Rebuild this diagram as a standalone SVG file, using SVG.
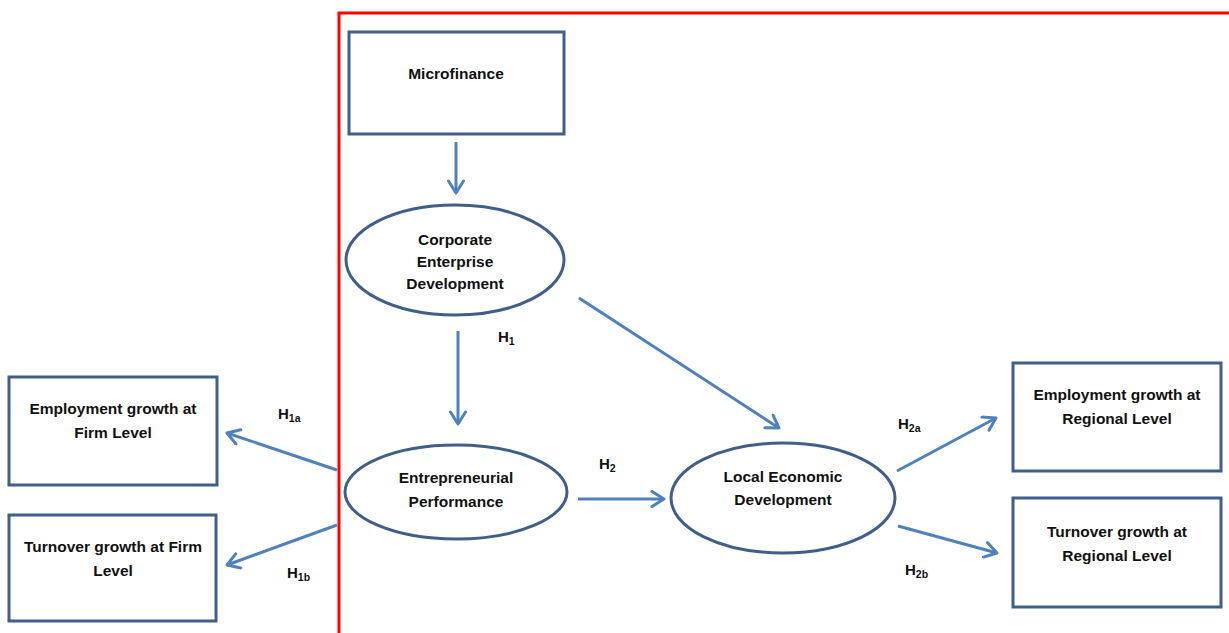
<svg xmlns="http://www.w3.org/2000/svg" width="1229" height="633" viewBox="0 0 1229 633">
  <style>
    .box { fill: #ffffff; stroke: #3f5f8a; stroke-width: 3; }
    .oval { fill: #ffffff; stroke: #3f5f8a; stroke-width: 3; }
    .lbl { font-family: "Liberation Sans", Arial, sans-serif; font-weight: bold; font-size: 15.5px; fill: #111111; text-anchor: middle; }
    .hyp { font-family: "Liberation Sans", Arial, sans-serif; font-weight: bold; font-size: 15px; fill: #111111; }
    .sub { font-size: 10.5px; }
    .edge { stroke: #4f81bd; stroke-width: 3; fill: none; marker-end: url(#chev); }
  </style>
  <defs>
    <marker id="chev" viewBox="0 0 12 12" refX="10" refY="6" markerWidth="6" markerHeight="6" markerUnits="strokeWidth" orient="auto">
      <polyline points="2,1 10,6 2,11" fill="none" stroke="#4f81bd" stroke-width="2" stroke-linecap="round" stroke-linejoin="round"/>
    </marker>
  </defs>
  <rect width="1229" height="633" fill="#ffffff"/>

  <!-- boundary frame -->
  <polyline points="339,633 339,13 1229,13" fill="none" stroke="#ff0000" stroke-width="3"/>

  <g id="connectors">
    <line class="edge" x1="456" y1="142" x2="456" y2="193"/>
    <line class="edge" x1="458" y1="331" x2="458" y2="424"/>
    <line class="edge" x1="579" y1="298" x2="779" y2="428"/>
    <line class="edge" x1="578" y1="499" x2="664" y2="499"/>
    <line class="edge" x1="337" y1="470" x2="227" y2="433"/>
    <line class="edge" x1="337" y1="525" x2="227" y2="565"/>
    <line class="edge" x1="897" y1="471" x2="996" y2="418"/>
    <line class="edge" x1="898" y1="526" x2="997" y2="553"/>
  </g>

  <g id="microfinance">
    <rect class="box" x="349" y="32" width="215" height="102"/>
    <text class="lbl" x="456" y="79">Microfinance</text>
  </g>

  <g id="corporate-enterprise-development">
    <ellipse class="oval" cx="455" cy="260" rx="109" ry="55"/>
    <text class="lbl" x="455" y="245">Corporate</text>
    <text class="lbl" x="455" y="267">Enterprise</text>
    <text class="lbl" x="455" y="289">Development</text>
  </g>

  <g id="entrepreneurial-performance">
    <ellipse class="oval" cx="456" cy="492" rx="111" ry="47"/>
    <text class="lbl" x="456" y="483">Entrepreneurial</text>
    <text class="lbl" x="456" y="507">Performance</text>
  </g>

  <g id="local-economic-development">
    <ellipse class="oval" cx="783" cy="498" rx="112" ry="55"/>
    <text class="lbl" x="783" y="482">Local Economic</text>
    <text class="lbl" x="783" y="505">Development</text>
  </g>

  <g id="employment-firm">
    <rect class="box" x="9" y="377" width="208" height="108"/>
    <text class="lbl" x="113" y="414">Employment growth at</text>
    <text class="lbl" x="113" y="438">Firm Level</text>
  </g>

  <g id="turnover-firm">
    <rect class="box" x="9" y="515" width="207" height="106"/>
    <text class="lbl" x="113" y="552">Turnover growth at Firm</text>
    <text class="lbl" x="113" y="576">Level</text>
  </g>

  <g id="employment-regional">
    <rect class="box" x="1013" y="363" width="208" height="108"/>
    <text class="lbl" x="1117" y="400">Employment growth at</text>
    <text class="lbl" x="1117" y="424">Regional Level</text>
  </g>

  <g id="turnover-regional">
    <rect class="box" x="1013" y="498" width="208" height="109"/>
    <text class="lbl" x="1117" y="537">Turnover growth at</text>
    <text class="lbl" x="1117" y="561">Regional Level</text>
  </g>

  <g id="hypotheses">
    <text class="hyp" x="498" y="342">H<tspan class="sub" dy="3">1</tspan></text>
    <text class="hyp" x="278" y="419">H<tspan class="sub" dy="3">1a</tspan></text>
    <text class="hyp" x="287" y="578">H<tspan class="sub" dy="3">1b</tspan></text>
    <text class="hyp" x="599" y="469">H<tspan class="sub" dy="3">2</tspan></text>
    <text class="hyp" x="898" y="429">H<tspan class="sub" dy="3">2a</tspan></text>
    <text class="hyp" x="905" y="575">H<tspan class="sub" dy="3">2b</tspan></text>
  </g>
</svg>
